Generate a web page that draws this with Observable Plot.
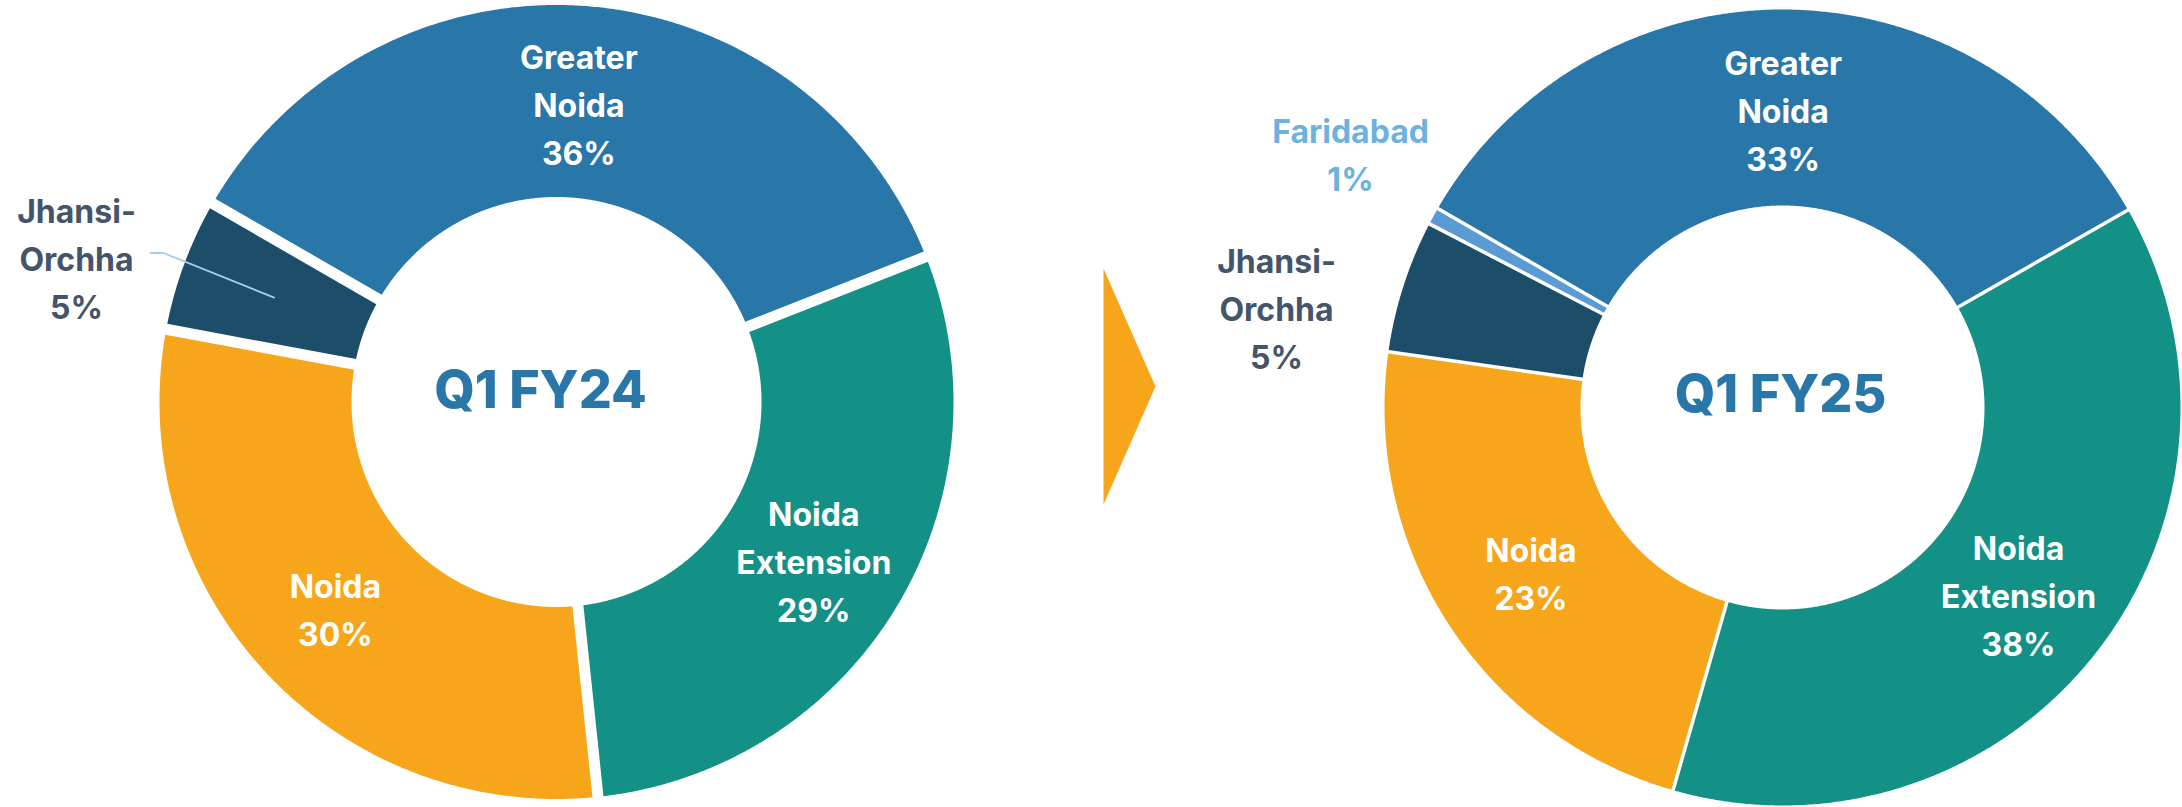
<!DOCTYPE html>
<html>
<head>
<meta charset="utf-8">
<script src="https://cdn.jsdelivr.net/npm/d3@7"></script>
<script src="https://cdn.jsdelivr.net/npm/@observablehq/plot@0.6"></script>
<style>
  html, body { margin: 0; padding: 0; background: #ffffff; }
  #chart svg { display: block; }
</style>
</head>
<body>
<div id="chart"></div>
<script>
// ---------------- DATA ----------------
const periods = ["Q1 FY24", "Q1 FY25"];
const regions = ["Greater Noida", "Noida Extension", "Noida", "Jhansi-Orchha", "Faridabad"];
const regionLabels = ["Greater\nNoida", "Noida\nExtension", "Noida", "Jhansi-\nOrchha", "Faridabad"];
// share of each region (%)
const sharesFY24 = [35.7, 29.3, 29.6, 5.4];        // Greater Noida, Noida Ext., Noida, Jhansi-Orchha
const sharesFY25 = [33.4, 37.7, 22.8, 5.4, 0.7];   // ... , Faridabad

// ---------------- STYLE / LAYOUT ----------------
const W = 2182, H = 807;
const sliceColors = {
  "Greater Noida": "#2877A8",
  "Noida Extension": "#139187",
  "Noida": "#F7A61C",
  "Jhansi-Orchha": "#1C4D69",
  "Faridabad": "#5B9BD5"
};
const outsideLabelColors = { "Jhansi-Orchha": "#44546A", "Faridabad": "#6DB1DF" };
const titleColor = "#2877A8";
const arrowColor = "#F7A61C";
const leaderColor = "#A6CCE8";
const FONT = "Inter, 'Open Sans', 'Noto Sans', sans-serif";
const startAngleDeg = -60;  // first slice starts at 300°
const donutLayout = [
  { cx: 556, cy: 401.5, r0: 205, r1: 397, gap: 11, titleDx: -16, titleDy: -11,
    outside: { "Jhansi-Orchha": { dx: -480, dy: -146, leader: true } } },
  { cx: 1782, cy: 407, r0: 202, r1: 398, gap: 3.5, titleDx: -2, titleDy: -12,
    outside: { "Jhansi-Orchha": { dx: -506, dy: -102, leader: false },
               "Faridabad": { dx: -432, dy: -256, leader: false } } }
];
const arrowLayout = { x: 1103, yMid: 386, w: 52, h: 236 };

// ---------------- BUILD GEOMETRY FROM DATA ----------------
const deg = Math.PI / 180;
const allShares = [sharesFY24, sharesFY25];
const polyPts = [];
const inLabels = [];
const outLabels = [];
const leaders = [];
const titles = [];

allShares.forEach((shares, p) => {
  const L = donutLayout[p];
  const total = d3.sum(shares);
  let a = startAngleDeg * deg;
  const pOut = Math.asin(L.gap / 2 / L.r1);
  const pIn = Math.asin(L.gap / 2 / L.r0);
  shares.forEach((v, i) => {
    const region = regions[i];
    const span = v / total * 2 * Math.PI;
    const a0 = a, a1 = a + span;
    a = a1;
    const key = periods[p] + "|" + region;
    const color = sliceColors[region];
    const n = Math.max(4, Math.ceil(span / deg * 3));
    for (let k = 0; k <= n; k++) {
      const t = a0 + pOut + (a1 - a0 - 2 * pOut) * k / n;
      polyPts.push({ key, color, x: L.cx + L.r1 * Math.sin(t), y: L.cy - L.r1 * Math.cos(t) });
    }
    for (let k = n; k >= 0; k--) {
      const t = a0 + pIn + (a1 - a0 - 2 * pIn) * k / n;
      polyPts.push({ key, color, x: L.cx + L.r0 * Math.sin(t), y: L.cy - L.r0 * Math.cos(t) });
    }
    const mid = (a0 + a1) / 2;
    const rc = (L.r0 + L.r1) / 2;
    const cxs = L.cx + rc * Math.sin(mid), cys = L.cy - rc * Math.cos(mid);
    const text = regionLabels[i] + "\n" + Math.round(v) + "%";
    const o = L.outside[region];
    if (o) {
      const lx = L.cx + o.dx, ly = L.cy + o.dy;
      outLabels.push({ x: lx, y: ly, text, color: outsideLabelColors[region] });
      if (o.leader) {
        const lk = key + "|leader";
        leaders.push({ key: lk, x: lx + 74, y: ly - 3 });
        leaders.push({ key: lk, x: lx + 87, y: ly - 3 });
        leaders.push({ key: lk, x: cxs, y: cys });
      }
    } else {
      inLabels.push({ x: cxs, y: cys, text });
    }
  });
  titles.push({ x: L.cx + L.titleDx, y: L.cy + L.titleDy, text: periods[p] });
});

const arrowPts = [
  { x: arrowLayout.x, y: arrowLayout.yMid - arrowLayout.h / 2 },
  { x: arrowLayout.x + arrowLayout.w, y: arrowLayout.yMid },
  { x: arrowLayout.x, y: arrowLayout.yMid + arrowLayout.h / 2 }
];

// ---------------- PLOT ----------------
const chart = Plot.plot({
  width: W,
  height: H,
  margin: 0,
  x: { domain: [0, W], range: [0, W], axis: null },
  y: { domain: [0, H], range: [0, H], axis: null },
  color: { type: "identity" },
  style: { fontFamily: FONT, background: "#ffffff" },
  marks: [
    Plot.line(polyPts, { x: "x", y: "y", z: "key", fill: "color", stroke: "none", curve: "linear" }),
    Plot.line(arrowPts, { x: "x", y: "y", fill: arrowColor, stroke: "none" }),
    Plot.line(leaders, { x: "x", y: "y", z: "key", stroke: leaderColor, strokeWidth: 1.8 }),
    Plot.text(inLabels, { x: "x", y: "y", text: "text", fill: "#ffffff", fontSize: 32, fontWeight: 700,
      lineHeight: 1.5, lineAnchor: "middle", textAnchor: "middle", fontFamily: FONT }),
    Plot.text(outLabels, { x: "x", y: "y", text: "text", fill: "color", fontSize: 32, fontWeight: 700,
      lineHeight: 1.5, lineAnchor: "middle", textAnchor: "middle", fontFamily: FONT }),
    Plot.text(titles, { x: "x", y: "y", text: "text", fill: titleColor, fontSize: 52, fontWeight: 800,
      lineAnchor: "middle", textAnchor: "middle", fontFamily: FONT })
  ]
});
document.getElementById("chart").appendChild(chart);
</script>
</body>
</html>
